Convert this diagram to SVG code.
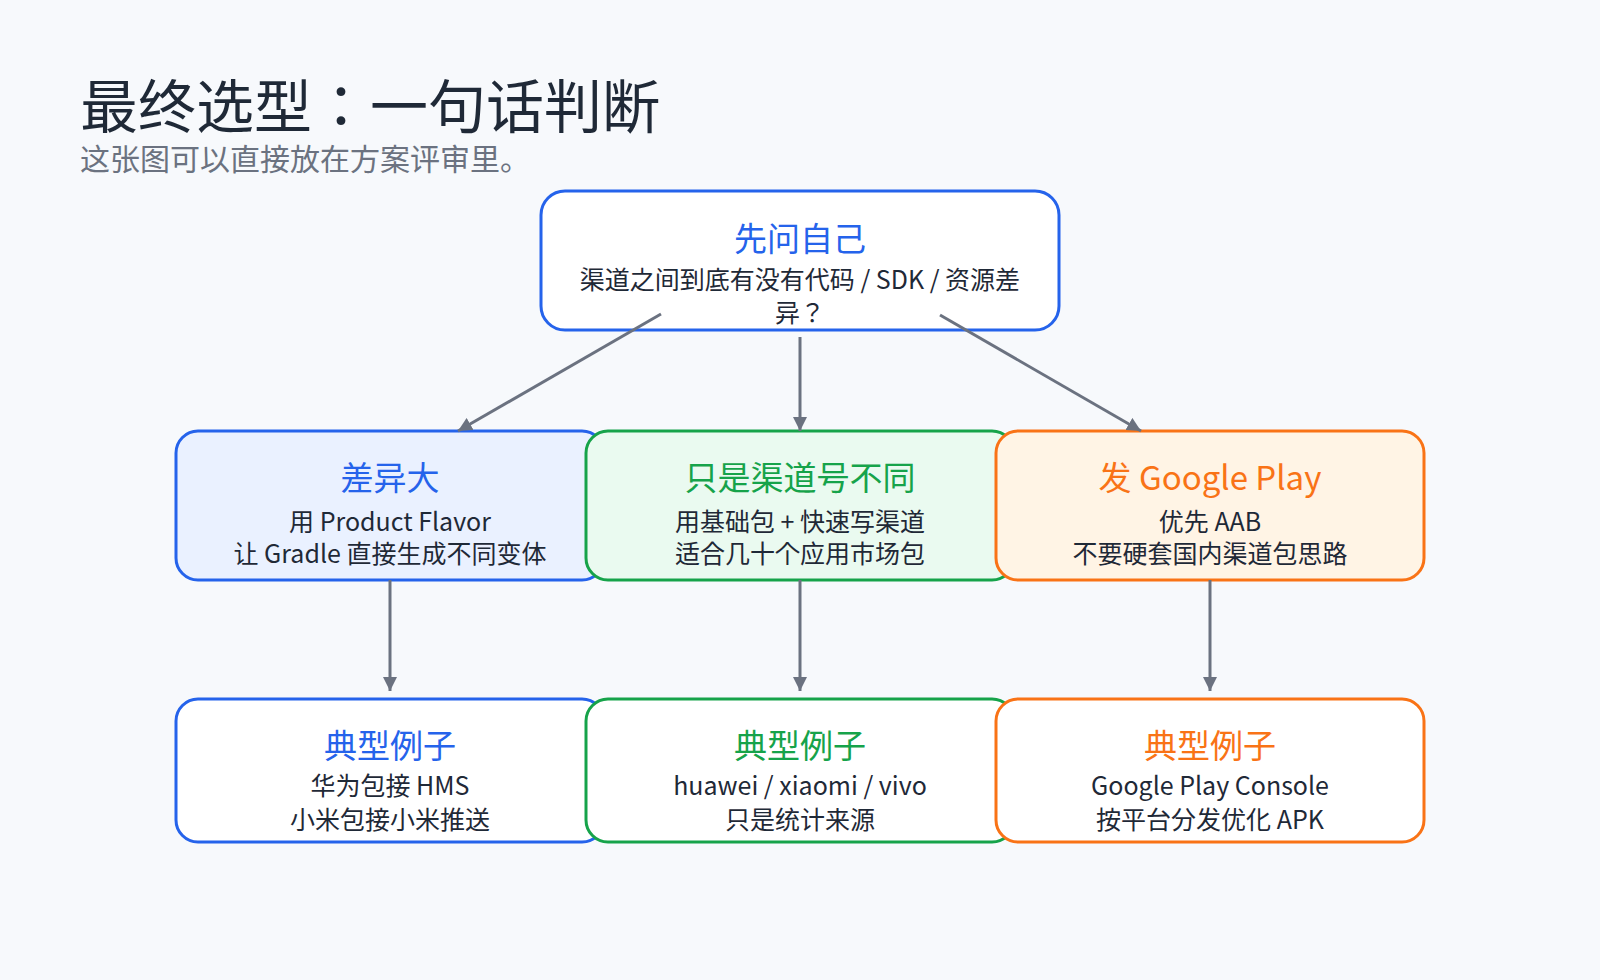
<svg xmlns="http://www.w3.org/2000/svg" width="1600" height="980" viewBox="0 0 1600 980">
<defs>
<style>
text{font-family:"Noto Sans CJK JP","Noto Sans CJK SC","Noto Sans",sans-serif;}
.h1{font-size:58px;fill:#1f2937;font-weight:400;}
.sub{font-size:30px;fill:#6b7280;}
.t{font-size:33px;text-anchor:middle;}
.b{font-size:25px;text-anchor:middle;fill:#1f2937;}
.blue{fill:#2563eb;}
.green{fill:#16a34a;}
.orange{fill:#f97316;}
.nb{stroke:#2563eb;stroke-width:3;}
.ng{stroke:#16a34a;stroke-width:3;}
.no{stroke:#f97316;stroke-width:3;}
.edge{stroke:#6b7280;stroke-width:3;fill:none;marker-end:url(#arr);}
</style>
<marker id="arr" markerUnits="userSpaceOnUse" markerWidth="14" markerHeight="14" refX="14" refY="7" orient="auto">
<path d="M0,0 L14,7 L0,14 z" fill="#6b7280"/>
</marker>
</defs>
<rect x="0" y="0" width="1600" height="980" fill="#f7f9fc"/>
<text class="h1" x="80" y="128">最终选型：一句话判断</text>
<text class="sub" x="80" y="170">这张图可以直接放在方案评审里。</text>

<g id="root">
<rect class="nb" x="541" y="191" width="518" height="139" rx="24" fill="#ffffff"/>
<text class="t blue" x="800" y="251">先问自己</text>
<text class="b" x="800" y="289">渠道之间到底有没有代码 / SDK / 资源差</text>
<text class="b" x="800" y="322">异？</text>
</g>

<g id="big-diff">
<rect class="nb" x="176" y="431" width="428" height="149" rx="22" fill="#eaf1ff"/>
<text class="t blue" x="390" y="490">差异大</text>
<text class="b" x="390" y="531">用 Product Flavor</text>
<text class="b" x="390" y="563">让 Gradle 直接生成不同变体</text>
</g>

<g id="channel-only">
<rect class="ng" x="586" y="431" width="428" height="149" rx="22" fill="#eafaf0"/>
<text class="t green" x="800" y="490">只是渠道号不同</text>
<text class="b" x="800" y="531">用基础包 + 快速写渠道</text>
<text class="b" x="800" y="563">适合几十个应用市场包</text>
</g>

<g id="google-play">
<rect class="no" x="996" y="431" width="428" height="149" rx="22" fill="#fff4e5"/>
<text class="t orange" x="1210" y="490">发 Google Play</text>
<text class="b" x="1210" y="531">优先 AAB</text>
<text class="b" x="1210" y="563">不要硬套国内渠道包思路</text>
</g>

<g id="ex-big-diff">
<rect class="nb" x="176" y="699" width="428" height="143" rx="22" fill="#ffffff"/>
<text class="t blue" x="390" y="758">典型例子</text>
<text class="b" x="390" y="795">华为包接 HMS</text>
<text class="b" x="390" y="829">小米包接小米推送</text>
</g>

<g id="ex-channel-only">
<rect class="ng" x="586" y="699" width="428" height="143" rx="22" fill="#ffffff"/>
<text class="t green" x="800" y="758">典型例子</text>
<text class="b" x="800" y="795">huawei / xiaomi / vivo</text>
<text class="b" x="800" y="829">只是统计来源</text>
</g>

<g id="ex-google-play">
<rect class="no" x="996" y="699" width="428" height="143" rx="22" fill="#ffffff"/>
<text class="t orange" x="1210" y="758">典型例子</text>
<text class="b" x="1210" y="795">Google Play Console</text>
<text class="b" x="1210" y="829">按平台分发优化 APK</text>
</g>

<g id="connectors">
<line class="edge" x1="661" y1="314" x2="458" y2="431"/>
<line class="edge" x1="800" y1="337" x2="800" y2="431"/>
<line class="edge" x1="940" y1="315" x2="1141" y2="431"/>
<line class="edge" x1="390" y1="580" x2="390" y2="691"/>
<line class="edge" x1="800" y1="580" x2="800" y2="691"/>
<line class="edge" x1="1210" y1="580" x2="1210" y2="691"/>
</g>
</svg>
